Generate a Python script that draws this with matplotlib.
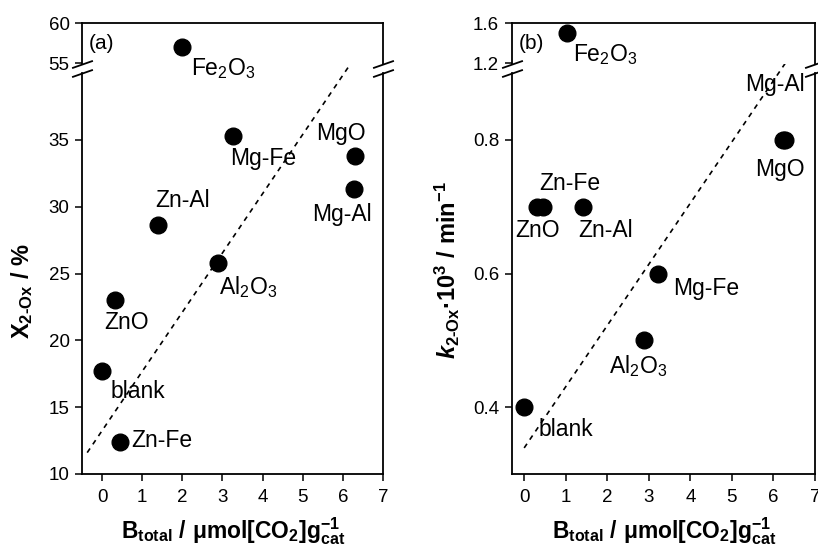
import numpy as np
import matplotlib
matplotlib.use("Agg")
import matplotlib.pyplot as plt

plt.rcParams["font.family"] = ["Liberation Sans", "DejaVu Sans"]
plt.rcParams["mathtext.fontset"] = "custom"
plt.rcParams["mathtext.rm"] = "Liberation Sans:bold"
plt.rcParams["mathtext.bf"] = "Liberation Sans:bold"
plt.rcParams["mathtext.it"] = "Liberation Sans:italic:bold"
plt.rcParams["mathtext.sf"] = "Liberation Sans"

# panel (a): conversion X2-Ox vs total basicity
a_names = ["Fe$_\\mathsf{2}$O$_\\mathsf{3}$", "Mg-Fe", "MgO", "Mg-Al", "Zn-Al",
           "Al$_\\mathsf{2}$O$_\\mathsf{3}$", "ZnO", "blank", "Zn-Fe"]
a_x = [1.98, 3.25, 6.29, 6.27, 1.40, 2.88, 0.31, 0.0, 0.44]
a_y = [57.0, 35.3, 33.8, 31.3, 28.6, 25.8, 23.0, 17.7, 12.4]
a_fit_x = [-0.37, 6.33]
a_fit_y = [11.6, 41.3]

# panel (b): rate constant k2-Ox vs total basicity
b_names = ["Fe$_\\mathsf{2}$O$_\\mathsf{3}$", "Mg-Al", "MgO", "Zn-Fe", "ZnO", "Zn-Al",
           "Mg-Fe", "Al$_\\mathsf{2}$O$_\\mathsf{3}$", "blank"]
b_x = [1.02, 6.22, 6.27, 0.46, 0.30, 1.41, 3.21, 2.89, 0.0]
b_y = [1.50, 0.80, 0.80, 0.70, 0.70, 0.70, 0.60, 0.50, 0.40]
b_fit_x = [0.0, 6.48]
b_fit_y = [0.339, 0.9325]

# label offsets in pixels (left edge, baseline) relative to the marker
a_off = [(9, -28), (-2, -29), (-38, 16), (-42, -32), (-3, 18), (1, -31),
         (-10, -29), (8, -27), (12, -5)]
b_off = [(6, -28), (-37, 49), (-30, -36), (-4, 17), (-21, -30), (-4, -30),
         (16, -21), (-35, -33), (14, -29)]

W, H = 818, 545
fig = plt.figure(figsize=(W / 100, H / 100), dpi=100)


def rect(x0, x1, y0, y1):
    return [x0 / W, 1 - y1 / H, (x1 - x0) / W, (y1 - y0) / H]


def panel(x0, x1, lo_lim, hi_lim, lo_ticks, hi_ticks, xs, ys, names, offs,
          fx, fy, tag, fmt):
    lo = fig.add_axes(rect(x0, x1, 73, 474))
    hi = fig.add_axes(rect(x0, x1, 23, 64))
    for ax in (lo, hi):
        ax.plot(xs, ys, "o", color="black", ms=12, zorder=3)
        ax.set_xlim(-0.5 if tag == "(a)" else -0.3, 7)
        for s in ax.spines.values():
            s.set_linewidth(1.3)
        ax.tick_params(direction="out", length=5, width=1.1, labelsize=13.5,
                       top=False, right=False, pad=4)
    lo.set_ylim(*lo_lim)
    hi.set_ylim(*hi_lim)
    lo.set_yticks(lo_ticks)
    hi.set_yticks(hi_ticks)
    lo.yaxis.set_major_formatter(fmt)
    hi.yaxis.set_major_formatter(fmt)
    lo.set_xticks(range(0, 8))
    lo.tick_params(axis="x", pad=6)
    hi.set_xticks([])
    lo.spines["top"].set_visible(False)
    hi.spines["bottom"].set_visible(False)
    lo.plot(fx, fy, color="black", lw=1.2, ls=(0, (3, 3)), clip_on=False)
    for name, x, y, (dx, dy) in zip(names, xs, ys, offs):
        target = hi if y > lo_lim[1] else lo
        target.annotate(name, (x, y), xytext=(dx, dy), textcoords="offset pixels",
                        ha="left", va="baseline", fontsize=16.5,
                        annotation_clip=False)
    hi.text(0.022, 0.5, tag, transform=hi.transAxes, ha="left", va="center",
            fontsize=15)
    # break marks on both spines
    mk = dict(marker=[(-1, -0.35), (1, 0.35)], ms=15, mec="black", mew=1.3,
              ls="none", clip_on=False)
    hi.plot([0, 1], [0, 0], transform=hi.transAxes, **mk)
    lo.plot([0, 1], [1, 1], transform=lo.transAxes, **mk)
    return lo, hi


panel(82, 383, (10, 40), (54.88, 60), [10, 15, 20, 25, 30, 35], [55, 60],
      a_x, a_y, a_names, a_off, a_fit_x, a_fit_y, "(a)", "{x:.0f}")
panel(511.7, 815, (0.3, 0.9), (1.193, 1.6), [0.4, 0.6, 0.8], [1.2, 1.6],
      b_x, b_y, b_names, b_off, b_fit_x, b_fit_y, "(b)", "{x:.1f}")

xlab = r"$\mathbf{B_{total}\ /\ μmol[CO_2]g^{-1}_{cat}}$"
fig.text(233 / W, 1 - 538 / H, xlab, ha="center", va="baseline", fontsize=16.5)
fig.text(664 / W, 1 - 538 / H, xlab, ha="center", va="baseline", fontsize=16.5)
fig.text(22 / W, 1 - 291 / H, r"$\mathbf{X_{2‐Ox}\ /\ \%}$", rotation=90,
         ha="center", va="center", fontsize=17)
fig.text(447 / W, 1 - 270 / H, r"$k_{\mathbf{2‐Ox}}\mathbf{·10^{3}\ /\ min^{-1}}$",
         rotation=90, ha="center", va="center", fontsize=17)

fig.savefig("out.png", dpi=100)
